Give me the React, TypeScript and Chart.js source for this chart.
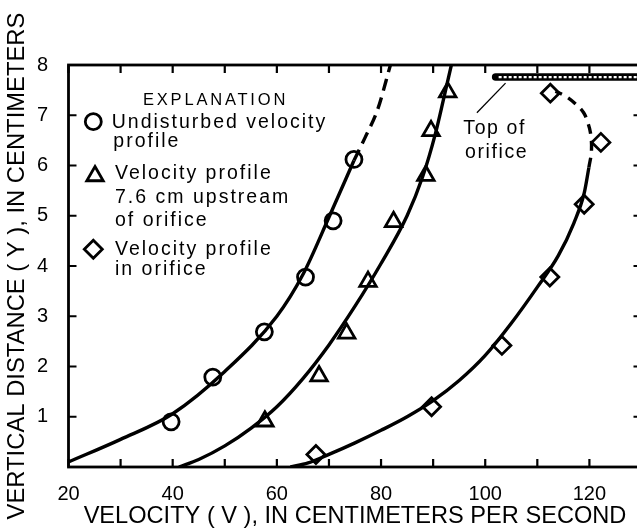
import React, { useEffect, useRef } from 'react';
import { Chart, registerables } from 'chart.js';

Chart.register(...registerables);

const FONT = "'Liberation Sans', Arial, Helvetica, sans-serif";

// Axis ticks / labels
const xTickLabels = [20, 40, 60, 80, 100, 120];
const yTickLabels = [1, 2, 3, 4, 5, 6, 7, 8];

// Measured points
const circleV = [39.7, 47.7, 57.6, 65.5, 70.8, 74.8];
const circleY = [0.9, 1.79, 2.69, 3.78, 4.9, 6.12];

const triangleV = [57.7, 68.1, 73.4, 77.5, 82.4, 88.6, 89.6, 92.8];
const triangleY = [0.91, 1.81, 2.66, 3.69, 4.88, 5.8, 6.69, 7.46];

const diamondV = [67.5, 89.7, 103.2, 112.4, 119.0, 122.2, 112.5];
const diamondY = [0.25, 1.2, 2.42, 3.78, 5.23, 6.46, 7.44];

// Fitted curves
const circleCurveV = [20, 30, 40, 50, 60, 65, 70, 74.8];
const circleCurveY = [0.1, 0.55, 1.06, 1.9, 3.0, 3.83, 4.97, 6.1];
const circleDashV = [74.8, 77.0, 79.3, 81.8];
const circleDashY = [6.1, 6.57, 7.1, 8.0];

const triangleCurveV = [41.2, 45, 50, 55, 60, 65, 70, 75, 80, 85, 88, 90.4, 92, 93.5];
const triangleCurveY = [0, 0.15, 0.42, 0.77, 1.2, 1.76, 2.43, 3.2, 4.05, 5.0, 5.78, 6.62, 7.32, 8.0];

const diamondCurveV = [62.6, 66, 70, 75, 80, 85, 90, 95, 100, 105, 110, 114, 117, 119, 119.9];
const diamondCurveY = [0, 0.08, 0.25, 0.48, 0.73, 1.0, 1.32, 1.72, 2.22, 2.86, 3.58, 4.2, 4.85, 5.45, 5.96];
const diamondDashV = [119.9, 120.4, 120.2, 119.6, 118.9, 117.6, 115.7, 113.5];
const diamondDashY = [5.96, 6.3, 6.65, 6.88, 7.05, 7.2, 7.36, 7.48];

// Top of orifice plate and its leader line
const orificeV = [102.0, 132];
const orificeY = 7.76;
const leaderV = [98.4, 103.9];
const leaderY = [7.05, 7.64];

// Text
const xTitle = 'VELOCITY ( V ), IN CENTIMETERS PER SECOND';
const yTitle = 'VERTICAL DISTANCE ( Y ), IN CENTIMETERS';
const legendTitle = 'EXPLANATION';
const legendLines = [
  { text: 'Undisturbed velocity', x: 111.7, y: 128.3 },
  { text: 'profile', x: 113.3, y: 146.7 },
  { text: 'Velocity profile', x: 115, y: 179.3 },
  { text: '7.6 cm upstream', x: 115, y: 202.7 },
  { text: 'of orifice', x: 115, y: 226 },
  { text: 'Velocity profile', x: 115, y: 255 },
  { text: 'in orifice', x: 115, y: 275 },
];
const orificeLabel = [
  { text: 'Top of', x: 463.3, y: 134.3 },
  { text: 'orifice', x: 465, y: 158.3 },
];

const pts = (xs: number[], ys: number[]) => xs.map((x, i) => ({ x, y: ys[i] }));

function drawMarker(ctx: CanvasRenderingContext2D, style: string, x: number, y: number, r: number) {
  ctx.beginPath();
  if (style === 'circle') {
    ctx.arc(x, y, r, 0, Math.PI * 2);
  } else if (style === 'triangle') {
    let rad = 0;
    ctx.moveTo(x + Math.sin(rad) * r, y - Math.cos(rad) * r);
    rad += (2 * Math.PI) / 3;
    ctx.lineTo(x + Math.sin(rad) * r, y - Math.cos(rad) * r);
    rad += (2 * Math.PI) / 3;
    ctx.lineTo(x + Math.sin(rad) * r, y - Math.cos(rad) * r);
    ctx.closePath();
  } else {
    ctx.moveTo(x - r, y);
    ctx.lineTo(x, y - r);
    ctx.lineTo(x + r, y);
    ctx.lineTo(x, y + r);
    ctx.closePath();
  }
  ctx.stroke();
}

const framePlugin = {
  id: 'frameAndNotes',
  afterDatasetsDraw(chart: any) {
    const { ctx, chartArea: a, scales } = chart;
    const xs = scales.x;
    const ys = scales.y;
    ctx.save();
    // frame
    ctx.strokeStyle = '#000';
    ctx.lineWidth = 2.8;
    ctx.setLineDash([]);
    ctx.strokeRect(a.left, a.top, a.right - a.left, a.bottom - a.top);
    // inward ticks
    ctx.lineWidth = 2.2;
    const L = 8;
    ctx.beginPath();
    xs.ticks.forEach((t: any) => {
      const p = xs.getPixelForValue(t.value);
      ctx.moveTo(p, a.top);
      ctx.lineTo(p, a.top + L);
      ctx.moveTo(p, a.bottom);
      ctx.lineTo(p, a.bottom - L);
    });
    ys.ticks.forEach((t: any) => {
      const p = ys.getPixelForValue(t.value);
      ctx.moveTo(a.left, p);
      ctx.lineTo(a.left + L, p);
      ctx.moveTo(a.right, p);
      ctx.lineTo(a.right - L, p);
    });
    ctx.stroke();

    // orifice plate
    const ox0 = xs.getPixelForValue(orificeV[0]);
    const ox1 = xs.getPixelForValue(orificeV[1]);
    const oy = ys.getPixelForValue(orificeY);
    ctx.lineCap = 'round';
    ctx.lineWidth = 7.5;
    ctx.beginPath();
    ctx.moveTo(ox0, oy);
    ctx.lineTo(ox1, oy);
    ctx.stroke();
    ctx.lineCap = 'butt';
    ctx.lineWidth = 2.2;
    ctx.strokeStyle = '#fff';
    ctx.setLineDash([3, 2]);
    ctx.beginPath();
    ctx.moveTo(ox0 + 3, oy);
    ctx.lineTo(ox1, oy);
    ctx.stroke();
    ctx.setLineDash([]);

    // leader line
    ctx.strokeStyle = '#000';
    ctx.lineWidth = 1.3;
    ctx.beginPath();
    ctx.moveTo(xs.getPixelForValue(leaderV[0]), ys.getPixelForValue(leaderY[0]));
    ctx.lineTo(xs.getPixelForValue(leaderV[1]), ys.getPixelForValue(leaderY[1]));
    ctx.stroke();

    // legend
    ctx.fillStyle = '#000';
    ctx.textBaseline = 'alphabetic';
    ctx.textAlign = 'left';
    (ctx as any).letterSpacing = '2.8px';
    ctx.font = `16.5px ${FONT}`;
    ctx.fillText(legendTitle, 143, 105);
    (ctx as any).letterSpacing = '2px';
    ctx.font = `19.5px ${FONT}`;
    legendLines.forEach((l) => ctx.fillText(l.text, l.x, l.y));
    (ctx as any).letterSpacing = '1.6px';
    orificeLabel.forEach((l) => ctx.fillText(l.text, l.x, l.y));
    (ctx as any).letterSpacing = '0px';

    ctx.lineWidth = 2.8;
    ctx.strokeStyle = '#000';
    drawMarker(ctx, 'circle', 93.3, 121.7, 8);
    drawMarker(ctx, 'triangle', 95, 176, 9.5);
    drawMarker(ctx, 'diamond', 93.3, 249.2, 9);
    ctx.restore();
  },
};

export default function App() {
  const ref = useRef<HTMLCanvasElement>(null);
  useEffect(() => {
    if (!ref.current) return;
    const lineDs = (data: any[], dash: number[] = [], monotone = true) => ({
      type: 'line',
      data,
      borderColor: '#000',
      borderWidth: 3.4,
      borderDash: dash,
      pointRadius: 0,
      tension: 0.4,
      cubicInterpolationMode: monotone ? 'monotone' : 'default',
      fill: false,
    });
    const markerDs = (data: any[], style: string, r: number) => ({
      type: 'line',
      data,
      showLine: false,
      pointStyle: style,
      pointRadius: r,
      pointBorderWidth: 2.8,
      pointBorderColor: '#000',
      pointBackgroundColor: 'rgba(0,0,0,0)',
    });
    const chart = new Chart(ref.current, {
      type: 'line',
      data: {
        datasets: [
          lineDs(pts(circleCurveV, circleCurveY)),
          lineDs(pts(circleDashV, circleDashY), [12, 7]),
          lineDs(pts(triangleCurveV, triangleCurveY)),
          lineDs(pts(diamondCurveV, diamondCurveY)),
          lineDs(pts(diamondDashV, diamondDashY), [10, 7], false),
          markerDs(pts(circleV, circleY), 'circle', 8),
          markerDs(pts(triangleV, triangleY), 'triangle', 9.5),
          markerDs(pts(diamondV, diamondY), 'rectRot', 9),
        ] as any,
      },
      options: {
        animation: false,
        responsive: false,
        events: [],
        layout: { padding: { left: 0, top: 65, right: 18.5, bottom: 0 } },
        plugins: { legend: { display: false }, tooltip: { enabled: false } },
        scales: {
          x: {
            type: 'linear',
            min: 20,
            max: 130,
            grid: { display: false },
            border: { display: false },
            ticks: {
              stepSize: 10,
              autoSkip: false,
              maxRotation: 0,
              padding: 7,
              color: '#000',
              font: { family: FONT, size: 20 },
              callback: (v: any) => (xTickLabels.includes(Number(v)) ? String(v) : ''),
            },
            title: {
              display: true,
              text: xTitle,
              color: '#000',
              font: { family: FONT, size: 23.6, lineHeight: 1 },
              padding: { top: 0, bottom: 0 },
            },
            afterFit: (s: any) => {
              s.height = 61;
            },
          },
          y: {
            type: 'linear',
            min: 0,
            max: 8,
            grid: { display: false },
            border: { display: false },
            ticks: {
              stepSize: 1,
              padding: 12.5,
              color: '#000',
              font: { family: FONT, size: 20 },
              callback: (v: any) => (yTickLabels.includes(Number(v)) ? String(v) : ''),
            },
            title: {
              display: true,
              text: yTitle,
              color: '#000',
              font: { family: FONT, size: 23.8, lineHeight: 1 },
              padding: { top: 5.5, bottom: 0 },
            },
            afterFit: (s: any) => {
              s.width = 68.5;
            },
          },
        },
      } as any,
      plugins: [framePlugin],
    });
    return () => chart.destroy();
  }, []);
  return (
    <div
      style={{
        position: 'fixed',
        left: 0,
        top: 0,
        width: 637,
        height: 528,
        overflow: 'hidden',
        background: '#fff',
      }}
    >
      <canvas ref={ref} width={660} height={528} style={{ display: 'block' }} />
    </div>
  );
}
